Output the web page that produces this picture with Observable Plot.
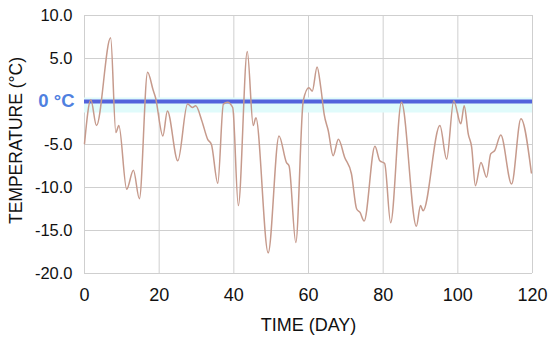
<!DOCTYPE html>
<html><head><meta charset="utf-8">
<script src="https://cdn.jsdelivr.net/npm/d3@7"></script>
<script src="https://cdn.jsdelivr.net/npm/@observablehq/plot@0.6"></script>
<style>body{margin:0;background:#fff}</style>
</head><body><div id="chart"></div>
<script>
const days = [0, 1.7, 3.2, 7.0, 8.4, 9.2, 11.3, 13.1, 14.7, 16.9, 18.4, 19.0, 21.0, 22.2, 25.0, 27.6, 28.9, 29.8, 31.4, 33.0, 34.0, 35.7, 37.2, 38.3, 39.7, 41.2, 43.6, 45.2, 45.9, 49.2, 52.1, 54.1, 54.8, 56.6, 58.6, 60.1, 61.0, 62.3, 63.3, 64.2, 65.3, 66.6, 68.0, 69.7, 71.5, 72.9, 73.8, 74.9, 77.8, 79.1, 80.4, 82.0, 84.9, 88.9, 90.0, 90.7, 95.2, 97.0, 98.9, 100.8, 101.7, 102.8, 103.7, 104.7, 106.2, 107.7, 108.8, 109.9, 111.5, 114.4, 116.9, 119.7];
const temps = [-4.9, 0.2, -2.8, 7.4, -3.6, -2.8, -10.2, -8.0, -11.3, 3.4, 1.3, 0.5, -4.0, -1.1, -6.9, -0.3, -0.7, -0.5, -2.2, -4.4, -5.0, -9.5, -0.3, -0.1, -0.7, -12.1, 5.8, -2.8, -1.9, -17.6, -4.0, -7.1, -7.5, -16.4, 0.1, 1.6, 1.2, 4.0, 1.6, -1.5, -3.4, -6.3, -4.4, -6.5, -8.4, -12.5, -12.9, -13.9, -5.2, -6.9, -7.2, -14.1, -0.1, -14.5, -12.1, -12.7, -2.8, -6.7, 0.1, -2.6, -0.5, -3.8, -5.3, -9.8, -7.1, -8.8, -6.1, -5.7, -3.9, -9.6, -2.0, -8.3];
const xTicks = [0, 20, 40, 60, 80, 100, 120];
const yTicks = [10, 5, -5, -10, -15, -20];
const gridYTicks = [10, 5, 0, -5, -10, -15, -20];
const zeroLabel = "0 °C";
const xLabel = "TIME (DAY)";
const yLabel = "TEMPERATURE (°C)";

const data = days.map((d, i) => ({day: d, temp: temps[i]}));

const chart = Plot.plot({
  width: 550, height: 339,
  marginLeft: 84, marginRight: 18, marginTop: 15, marginBottom: 66,
  style: {fontFamily: "'Liberation Sans', Arial, sans-serif", background: "#fff", color: "#111", overflow: "visible"},
  x: {domain: [0, 120]},
  y: {domain: [-20, 10]},
  marks: [
    Plot.gridX(xTicks, {stroke: "#cfcfcf", strokeOpacity: 1}),
    Plot.gridY(gridYTicks, {stroke: "#cfcfcf", strokeOpacity: 1}),
    Plot.ruleY([0], {stroke: "#e0fbfb", strokeWidth: 15, dy: 3.5}),
    Plot.ruleY([0], {stroke: "#5363dc", strokeWidth: 4}),
    Plot.line(data, {x: "day", y: "temp", stroke: "#c69a8c", strokeWidth: 1.5, curve: "monotone-x"}),
    Plot.axisX(xTicks, {tickSize: 0, tickPadding: 15, fontSize: 18, label: xLabel, labelAnchor: "center", labelArrow: "none", labelOffset: 57}),
    Plot.axisY(yTicks, {tickSize: 0, tickPadding: 12, fontSize: 16.5, tickFormat: d => d.toFixed(1), label: null}),
    Plot.axisY([0], {tickSize: 0, tickPadding: 10, fontSize: 18.5, fontWeight: "bold", fill: "#4f80e0", tickFormat: () => zeroLabel, label: null}),
    Plot.text([yLabel], {text: d => d, frameAnchor: "left", rotate: -90, dx: -68, dy: -4, fontSize: 17.5, textAnchor: "middle", lineAnchor: "middle", fill: "#111"})
  ]
});
document.getElementById("chart").append(chart);
</script>
</body></html>
